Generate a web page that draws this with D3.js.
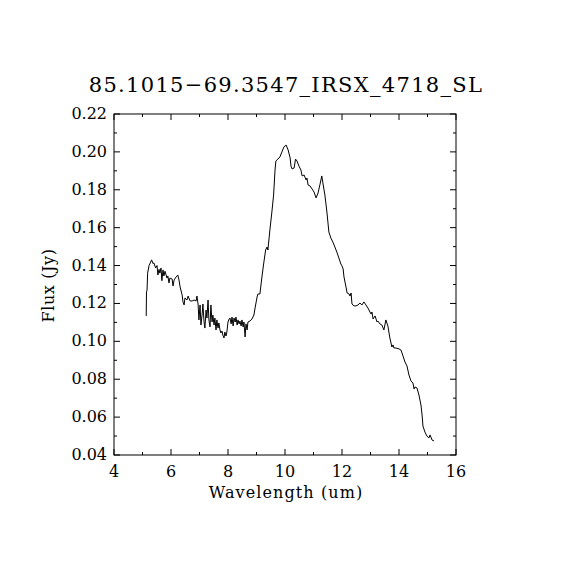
<!DOCTYPE html>
<html>
<head>
<meta charset="utf-8">
<script src="https://cdn.jsdelivr.net/npm/d3@7"></script>
<style>
  body { margin: 0; background: #fff; }
  svg text { font-family: "DejaVu Serif", "Liberation Serif", serif; fill: #000; }
</style>
</head>
<body>
<svg id="chart"></svg>
<script>
// spectrum
const wavelength = [5.13,5.14,5.16,5.18,5.23,5.32,5.37,5.40,5.46,5.51,5.54,5.58,5.61,5.65,5.68,5.72,5.75,5.79,5.86,5.89,
  5.93,5.96,6.04,6.07,6.11,6.18,6.24,6.28,6.32,6.39,6.42,6.46,6.49,6.56,6.60,6.67,6.74,6.81,6.88,6.91,
  6.95,6.98,7.02,7.05,7.09,7.12,7.16,7.19,7.23,7.26,7.30,7.33,7.37,7.40,7.44,7.47,7.51,7.54,7.58,7.61,
  7.65,7.68,7.72,7.75,7.79,7.82,7.86,7.89,7.93,7.96,8.00,8.04,8.07,8.11,8.14,8.18,8.21,8.25,8.28,8.32,
  8.35,8.39,8.42,8.46,8.49,8.53,8.56,8.60,8.63,8.67,8.70,8.77,8.84,8.91,8.95,9.02,9.05,9.12,9.19,9.26,
  9.32,9.37,9.40,9.47,9.54,9.60,9.65,9.68,9.75,9.82,9.89,9.96,10.04,10.11,10.18,10.21,10.25,10.32,10.37,10.42,
  10.49,10.56,10.60,10.67,10.74,10.77,10.81,10.88,10.95,11.02,11.09,11.16,11.23,11.29,11.33,11.40,11.47,11.54,11.61,11.68,
  11.75,11.82,11.89,11.96,12.00,12.04,12.07,12.14,12.18,12.25,12.28,12.32,12.35,12.42,12.49,12.56,12.63,12.70,12.77,12.84,
  12.91,12.98,13.02,13.05,13.09,13.16,13.23,13.26,13.33,13.40,13.47,13.54,13.61,13.68,13.75,13.79,13.82,13.89,14.00,14.07,
  14.14,14.21,14.28,14.35,14.42,14.49,14.53,14.56,14.63,14.70,14.77,14.81,14.84,14.91,14.98,15.05,15.09,15.16,15.23];
const flux = [0.1134,0.126,0.127,0.136,0.140,0.143,0.141,0.1414,0.1387,0.140,0.135,0.138,0.136,0.1387,0.132,0.1377,0.1345,0.137,0.1334,0.1345,
  0.1308,0.1334,0.1329,0.1292,0.1324,0.134,0.135,0.1324,0.1287,0.1245,0.1208,0.1192,0.1229,0.1218,0.1239,0.1213,0.1213,0.1218,0.1213,0.1239,
  0.1197,0.1113,0.1192,0.1086,0.1139,0.1197,0.1102,0.107,0.1165,0.1123,0.1218,0.1113,0.1076,0.1192,0.1102,0.1139,0.1086,0.1123,0.106,0.1113,
  0.107,0.1097,0.106,0.1044,0.1054,0.1033,0.1018,0.1049,0.1028,0.1049,0.1102,0.1118,0.1123,0.1092,0.1128,0.1081,0.1123,0.1102,0.1128,0.1086,
  0.1113,0.1092,0.1107,0.1081,0.1113,0.1076,0.1102,0.1023,0.1092,0.106,0.1102,0.1107,0.1118,0.1139,0.1176,0.1234,0.125,0.125,0.134,0.1419,
  0.1482,0.1498,0.1482,0.1588,0.1683,0.1772,0.1904,0.1952,0.1962,0.1973,0.1999,0.2026,0.2036,0.201,0.1968,0.1925,0.191,0.1915,0.1962,0.1952,
  0.1925,0.1904,0.1873,0.1878,0.1852,0.1862,0.1825,0.182,0.1804,0.1788,0.1757,0.1783,0.183,0.1873,0.1836,0.1772,0.1683,0.1577,0.1545,0.1524,
  0.1498,0.1471,0.144,0.1408,0.1398,0.1382,0.134,0.1287,0.1255,0.125,0.1239,0.1255,0.1197,0.1187,0.1187,0.1192,0.1202,0.1192,0.1208,0.1192,
  0.1176,0.1155,0.1144,0.1155,0.1118,0.1134,0.1102,0.1107,0.1092,0.1086,0.106,0.1113,0.1081,0.1018,0.097,0.0981,0.0965,0.0965,0.096,0.0954,
  0.0923,0.0891,0.087,0.0822,0.0791,0.078,0.0748,0.0759,0.0754,0.0717,0.0664,0.0611,0.0553,0.0521,0.05,0.049,0.0506,0.0479,0.0474];

const xTicks = [4, 6, 8, 10, 12, 14, 16];
const yTicks = [0.04, 0.06, 0.08, 0.10, 0.12, 0.14, 0.16, 0.18, 0.20, 0.22];
const titleText = "85.1015\u221269.3547_IRSX_4718_SL";

const width = 570, height = 570;
const plotL = 114, plotR = 456, plotT = 114, plotB = 455;

const svg = d3.select("#chart")
  .attr("width", width)
  .attr("height", height);

const x = d3.scaleLinear().domain([4, 16]).range([plotL, plotR]);
const y = d3.scaleLinear().domain([0.04, 0.22]).range([plotB, plotT]);

// frame
svg.append("rect")
  .attr("x", plotL).attr("y", plotT)
  .attr("width", plotR - plotL).attr("height", plotB - plotT)
  .attr("fill", "none").attr("stroke", "#000").attr("stroke-width", 1);

// inward ticks on all four sides
const xMinor = d3.range(4, 16.01, 1);
const yMinor = d3.range(0.04, 0.2201, 0.01);
const tickG = svg.append("g").attr("stroke", "#000").attr("stroke-width", 1);

xMinor.forEach(v => {
  const len = Math.round(v) % 2 === 0 ? 6 : 3;
  tickG.append("line").attr("x1", x(v)).attr("x2", x(v)).attr("y1", plotB).attr("y2", plotB - len);
  tickG.append("line").attr("x1", x(v)).attr("x2", x(v)).attr("y1", plotT).attr("y2", plotT + len);
});
yMinor.forEach((v, i) => {
  const len = i % 2 === 0 ? 6 : 3;
  tickG.append("line").attr("y1", y(v)).attr("y2", y(v)).attr("x1", plotL).attr("x2", plotL + len);
  tickG.append("line").attr("y1", y(v)).attr("y2", y(v)).attr("x1", plotR).attr("x2", plotR - len);
});

// tick labels
svg.append("g").selectAll("text")
  .data(xTicks).enter().append("text")
  .attr("x", d => x(d))
  .attr("y", plotB + 22)
  .attr("text-anchor", "middle")
  .attr("font-size", 16)
  .text(d => d);

svg.append("g").selectAll("text")
  .data(yTicks).enter().append("text")
  .attr("x", plotL - 7)
  .attr("y", d => y(d) + 5)
  .attr("text-anchor", "end")
  .attr("font-size", 16)
  .text(d => d.toFixed(2));

// axis titles
svg.append("text")
  .attr("x", (plotL + plotR) / 2 + 1)
  .attr("y", 498)
  .attr("text-anchor", "middle")
  .attr("font-size", 16)
  .attr("letter-spacing", 1.1)
  .text("Wavelength (um)");

svg.append("text")
  .attr("transform", "translate(54," + ((plotT + plotB) / 2 + 1) + ") rotate(-90)")
  .attr("text-anchor", "middle")
  .attr("font-size", 16)
  .attr("letter-spacing", 0.6)
  .text("Flux (Jy)");

svg.append("text")
  .attr("x", 286)
  .attr("y", 92)
  .attr("text-anchor", "middle")
  .attr("font-size", 21)
  .attr("letter-spacing", 1.3)
  .text(titleText);

// spectrum
const line = d3.line()
  .x((d, i) => x(wavelength[i]))
  .y(d => y(d));

svg.append("path")
  .datum(flux)
  .attr("fill", "none")
  .attr("stroke", "#000")
  .attr("stroke-width", 1)
  .attr("d", line);
</script>
</body>
</html>
